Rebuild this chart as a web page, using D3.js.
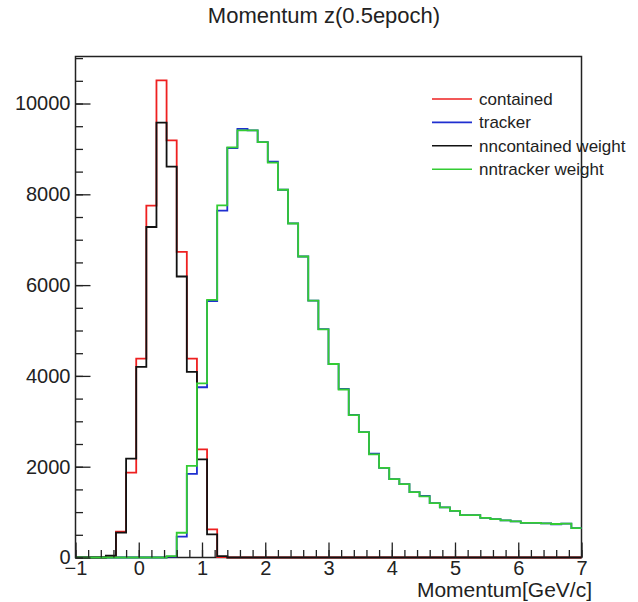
<!DOCTYPE html>
<html>
<head>
<meta charset="utf-8">
<script src="https://cdn.jsdelivr.net/npm/d3@7"></script>
<style>
  body { margin: 0; background: #fff; }
  text { font-family: "Liberation Sans", Arial, sans-serif; }
</style>
</head>
<body>
<div id="chart"></div>
<script>
// Data //
var xMin = -1, xMax = 7, nBins = 50;

// bin contents, 50 bins of 0.16 from -1 to 7
var contained = [0, 0, 0, 20, 570, 1870, 4380, 7750, 10510, 9190,
  6730, 4380, 2380, 620, 10, 0, 0, 0, 0, 0,
  0, 0, 0, 0, 0, 0, 0, 0, 0, 0,
  0, 0, 0, 0, 0, 0, 0, 0, 0, 0,
  0, 0, 0, 0, 0, 0, 0, 0, 0, 0];

var tracker = [0, 0, 0, 0, 0, 0, 0, 0, 0, 20,
  460, 1840, 3750, 5650, 7640, 9020, 9440, 9410, 9150, 8720,
  8100, 7360, 6630, 5660, 5030, 4260, 3715, 3140, 2760, 2285,
  1976, 1727, 1616, 1440, 1355, 1197, 1102, 1028, 933, 933,
  873, 845, 816, 794, 764, 764, 750, 728, 745, 646];

var nncontained = [0, 0, 0, 40, 550, 2180, 4200, 7280, 9580, 8610,
  6190, 4090, 2160, 510, 30, 0, 0, 0, 0, 0,
  0, 0, 0, 0, 0, 0, 0, 0, 0, 0,
  0, 0, 0, 0, 0, 0, 0, 0, 0, 0,
  0, 0, 0, 0, 0, 0, 0, 0, 0, 0];

var nntracker = [0, 0, 0, 0, 0, 0, 0, 0, 0, 30,
  545, 2020, 3836, 5673, 7755, 9032, 9407, 9407, 9150, 8700,
  8100, 7357, 6630, 5658, 5027, 4262, 3700, 3137, 2760, 2270,
  1976, 1727, 1616, 1440, 1345, 1197, 1102, 1028, 933, 933,
  873, 845, 816, 794, 764, 764, 750, 738, 745, 646];

var seriesNames = ["contained", "tracker", "nncontained weight", "nntracker weight"];
var seriesColors = ["#ee2020", "#1f2fd0", "#111111", "#33cc33"];

var xTicks = [-1, 0, 1, 2, 3, 4, 5, 6, 7];
var yTicks = [0, 2000, 4000, 6000, 8000, 10000];

(function() {
  'use strict'

  // SVG Setup //
  var width = 638,
    height = 602,
    frame = {left: 75.5, right: 581.5, top: 56.5, bottom: 557.5}

  var svg = d3.select("#chart").append("svg")
    .attr("width", width)
    .attr("height", height)

  // Scales //
  var yMax = d3.max(contained.concat(tracker, nncontained, nntracker)) * 1.05

  var x = d3.scaleLinear()
    .domain([xMin, xMax])
    .range([frame.left, frame.right])

  var y = d3.scaleLinear()
    .domain([0, yMax])
    .range([frame.bottom, frame.top])

  var binWidth = (xMax - xMin) / nBins
  var edges = d3.range(nBins + 1).map(function(i) { return xMin + i * binWidth })

  // Frame //
  svg.append("rect")
    .attr("x", frame.left)
    .attr("y", frame.top)
    .attr("width", frame.right - frame.left)
    .attr("height", frame.bottom - frame.top)
    .style("fill", "none")
    .style("stroke", "#222")
    .style("stroke-width", 1.5)

  // Histograms //
  var step = d3.line()
    .curve(d3.curveStepAfter)
    .x(function(d) { return x(d[0]) })
    .y(function(d) { return y(d[1]) })

  var allSeries = [contained, tracker, nncontained, nntracker]

  allSeries.forEach(function(vals, k) {
    var pts = vals.map(function(v, i) { return [edges[i], v] })
    pts.push([edges[nBins], vals[nBins - 1]])
    svg.append("path")
      .datum(pts)
      .attr("d", step)
      .style("fill", "none")
      .style("stroke", seriesColors[k])
      .style("stroke-width", 1.8)
  })

  // Axes //
  var xMinor = svg.append("g")
    .attr("transform", "translate(0," + frame.bottom + ")")
    .call(d3.axisBottom(x).tickValues(d3.range(xMin, xMax + 0.001, 0.2)).tickSize(-7.5).tickFormat(""))

  var xAxis = svg.append("g")
    .attr("transform", "translate(0," + frame.bottom + ")")
    .call(d3.axisBottom(x).tickValues(xTicks).tickSize(-15).tickPadding(3).tickFormat(d3.format("d")))

  var yMinor = svg.append("g")
    .attr("transform", "translate(" + frame.left + ",0)")
    .call(d3.axisLeft(y).tickValues(d3.range(0, yMax, 500)).tickSize(-7.5).tickFormat(""))

  var yAxis = svg.append("g")
    .attr("transform", "translate(" + frame.left + ",0)")
    .call(d3.axisLeft(y).tickValues(yTicks).tickSize(-15).tickPadding(5).tickFormat(d3.format("d")))

  svg.selectAll(".domain").remove()
  svg.selectAll(".tick line").style("stroke", "#222").style("stroke-width", 1.3)
  svg.selectAll(".tick text")
    .style("font-size", "20px")
    .style("font-family", "'Liberation Sans', Arial, sans-serif")
    .style("fill", "#222")

  // Titles //
  svg.append("text")
    .attr("x", 324)
    .attr("y", 23)
    .attr("text-anchor", "middle")
    .style("font-size", "22px")
    .style("fill", "#222")
    .text("Momentum z(0.5epoch)")

  svg.append("text")
    .attr("x", 592)
    .attr("y", 597)
    .attr("text-anchor", "end")
    .style("font-size", "21px")
    .style("fill", "#222")
    .text("Momentum[GeV/c]")

  // Legend //
  var legend = svg.append("g")
    .selectAll("g")
    .data(seriesNames)
    .enter().append("g")
    .attr("transform", function(d, i) { return "translate(432," + (99 + i * 23.4) + ")" })

  legend.append("line")
    .attr("x1", 0)
    .attr("x2", 40)
    .style("stroke", function(d, i) { return seriesColors[i] })
    .style("stroke-width", 1.6)

  legend.append("text")
    .attr("x", 47)
    .attr("dy", "0.35em")
    .style("font-size", "17px")
    .style("fill", "#222")
    .text(function(d) { return d })
})()
</script>
</body>
</html>
